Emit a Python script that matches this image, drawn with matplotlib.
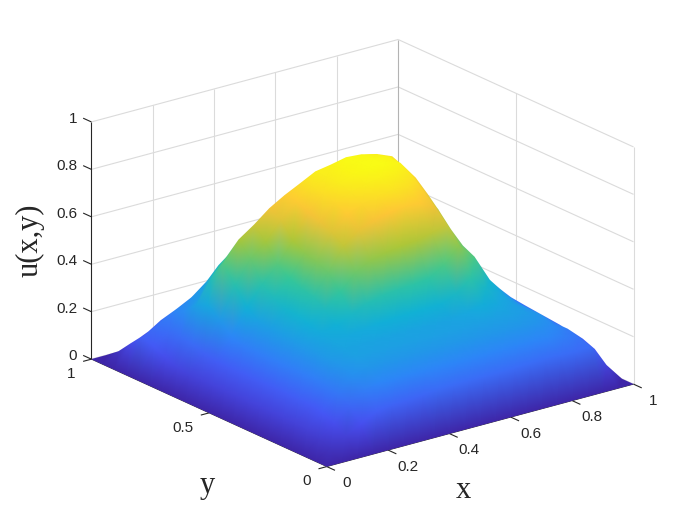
import numpy as np
import matplotlib
matplotlib.use("Agg")
import matplotlib.pyplot as plt
from matplotlib.colors import LinearSegmentedColormap
from mpl_toolkits.mplot3d import proj3d
from matplotlib.tri import Triangulation

x_vals = [0, .05, .1, .15, .2, .25, .3, .35, .4, .45, .5, .55, .6, .65, .7, .75, .8, .85, .9, .95, 1]
y_vals = [0, .05, .1, .15, .2, .25, .3, .35, .4, .45, .5, .55, .6, .65, .7, .75, .8, .85, .9, .95, 1]
x_ticks = [0, .2, .4, .6, .8, 1]
y_ticks = [0, .5, 1]
z_ticks = [0, .2, .4, .6, .8, 1]
x_tick_labels = ["0", "0.2", "0.4", "0.6", "0.8", "1"]
y_tick_labels = ["0", "0.5", "1"]
z_tick_labels = ["0", "0.2", "0.4", "0.6", "0.8", "1"]

# u[row for y][column for x]
u = [
[0]*21,
[0,.038,.068,.105,.138,.150,.150,.155,.165,.165,.165,.165,.165,.165,.168,.170,.168,.165,.170,.075,0],
[0,.056,.101,.158,.207,.225,.225,.225,.225,.225,.225,.225,.225,.225,.225,.225,.220,.205,.185,.120,0],
[0,.068,.122,.189,.248,.270,.270,.270,.270,.270,.270,.270,.270,.270,.270,.270,.262,.235,.200,.140,0],
[0,.073,.131,.204,.268,.291,.291,.291,.291,.291,.291,.291,.291,.291,.291,.291,.282,.256,.200,.148,0],
[0,.075,.135,.210,.276,.300,.300,.300,.300,.300,.300,.300,.300,.310,.325,.310,.291,.258,.200,.155,0],
[0,.075,.135,.210,.277,.305,.311,.319,.329,.334,.336,.338,.340,.365,.415,.355,.310,.260,.205,.160,0],
[0,.075,.135,.210,.279,.315,.334,.360,.390,.406,.413,.418,.425,.465,.530,.465,.350,.275,.210,.165,0],
[0,.075,.135,.210,.282,.332,.374,.432,.498,.532,.548,.559,.564,.580,.595,.490,.365,.295,.225,.170,0],
[0,.075,.135,.210,.284,.346,.407,.492,.588,.638,.661,.676,.684,.680,.645,.535,.415,.308,.240,.175,0],
[0,.075,.135,.210,.285,.352,.421,.516,.624,.680,.706,.723,.732,.728,.690,.590,.460,.350,.255,.190,0],
[0,.075,.135,.210,.295,.375,.440,.530,.646,.705,.733,.751,.761,.756,.735,.640,.525,.405,.290,.200,0],
[0,.075,.135,.225,.330,.410,.475,.560,.660,.722,.751,.770,.780,.778,.765,.685,.575,.455,.340,.210,0],
[0,.075,.145,.270,.400,.495,.550,.625,.684,.730,.751,.770,.780,.778,.768,.710,.620,.505,.390,.220,0],
[0,.080,.165,.310,.470,.553,.598,.650,.688,.720,.753,.764,.778,.773,.757,.730,.655,.550,.455,.240,0],
[0,.100,.170,.290,.390,.460,.520,.565,.610,.650,.680,.710,.720,.730,.725,.700,.665,.590,.490,.260,0],
[0,.125,.170,.240,.285,.375,.435,.485,.530,.580,.610,.650,.680,.690,.690,.680,.650,.605,.520,.300,0],
[0,.143,.177,.215,.245,.290,.360,.400,.450,.500,.535,.570,.605,.625,.640,.640,.630,.600,.550,.300,0],
[0,.093,.116,.157,.186,.219,.270,.300,.330,.350,.360,.370,.370,.370,.360,.340,.320,.290,.270,.160,0],
[0,.038,.060,.089,.118,.156,.186,.200,.200,.200,.200,.200,.200,.200,.190,.180,.160,.140,.110,.070,0],
[0]*21,
]

parula = LinearSegmentedColormap.from_list("parula", [
    (0.2422, 0.1504, 0.6603), (0.2810, 0.3228, 0.9579), (0.1786, 0.5289, 0.9682),
    (0.0689, 0.6948, 0.8394), (0.2161, 0.7843, 0.5923), (0.6720, 0.7793, 0.2227),
    (0.9970, 0.7659, 0.2199), (0.9769, 0.9839, 0.0805)])

ax_col = (.15, .15, .15)
grid_col = (.86, .86, .86)

fig = plt.figure(figsize=(7, 5.25), dpi=100)
size = 500
rect = [105.7/700, 15.2/525, size/700, size/525]
ax = fig.add_axes(rect, projection="3d", computed_zorder=False)
ax.set_proj_type("ortho")
ax.view_init(elev=20.5, azim=-127.5)
ax.set_box_aspect((1, 1, .655), zoom=1.17)
ax.set_xlim(0, 1)
ax.set_ylim(0, 1)
ax.set_zlim(0, 1)
ax.set_xticks([])
ax.set_yticks([])
ax.set_zticks([])
ax.set_axis_off()
M = ax.get_proj()

ax2 = fig.add_axes(rect)
ax2.set_xlim(-.095, .09)
ax2.set_ylim(-.095, .09)
ax2.set_xticks([])
ax2.set_yticks([])
ax2.set_axis_off()

def line(xs, ys, zs, col=grid_col, lw=.8, zo=1):
    ax.plot(xs, ys, zs, color=col, lw=lw, zorder=zo, solid_capstyle="butt", clip_on=False)

def label(x, y, z, s, ha):
    tx, ty, _ = proj3d.proj_transform(x, y, z, M)
    ax2.text(tx, ty, s, ha=ha, va="center", fontsize=11, color=ax_col, family="Liberation Sans")

# back walls
for z in z_ticks:
    line([0, 1], [1, 1], [z, z])
    line([1, 1], [0, 1], [z, z])
for x in x_ticks[1:-1]:
    line([x, x], [1, 1], [0, 1])
for y in y_ticks[1:-1]:
    line([1, 1], [y, y], [0, 1])
line([1, 1], [1, 1], [0, 1], col=(.7, .7, .7))
line([1, 1], [0, 0], [0, 1])

# axes lines and ticks
line([0, 0], [1, 1], [0, 1], col=ax_col, zo=3)
line([0, 1], [0, 0], [0, 0], col=ax_col, lw=.6, zo=1)
line([0, 0], [0, 1], [0, 0], col=ax_col, lw=.6, zo=1)
for x, lab in zip(x_ticks, x_tick_labels):
    line([x, x], [0, -.035], [0, 0], col=ax_col, zo=3)
    label(x-.035, -.13, 0, lab, "center")
for y, lab in zip(y_ticks, y_tick_labels):
    line([0, -.027], [y, y], [0, 0], col=ax_col, zo=3)
    label(-.0997, y-.0617, 0, lab, "right")
for z, lab in zip(z_ticks, z_tick_labels):
    line([0, 0], [1, 1.035], [z, z], col=ax_col, zo=3)
    label(0, 1.06, z-.015, lab, "right")

# surface: vertices projected with the 3d axes, drawn back to front with smooth colour
X, Y = np.meshgrid(x_vals, y_vals)
Z = np.array(u, dtype=float)
px, py, pz = proj3d.proj_transform(X.ravel(), Y.ravel(), Z.ravel(), M)
nr, nc = Z.shape
tris = []
for j in range(nr-1):
    for i in range(nc-1):
        a = j*nc+i
        b = a+1
        c = a+nc
        d = c+1
        tris.append([a, b, d])
        tris.append([a, d, c])
tris = np.array(tris)
order = np.argsort(-pz[tris].mean(axis=1))
tris = tris[order]

# gouraud triangles leave seams at 100 dpi, so draw them large and shrink
k = 4
fig_s = plt.figure(figsize=(7, 5.25), dpi=100*k)
fig_s.patch.set_alpha(0)
ax_s = fig_s.add_axes(rect)
ax_s.set_axis_off()
mesh = ax_s.tripcolor(Triangulation(px, py, tris), Z.ravel(), shading="gouraud", cmap=parula, vmin=0, vmax=Z.max())
mesh.set_clip_on(False)
ax_s.set_xlim(-.095, .09)
ax_s.set_ylim(-.095, .09)
fig_s.canvas.draw()
buf = np.asarray(fig_s.canvas.buffer_rgba()).astype(float)/255
h, w = buf.shape[0]//k, buf.shape[1]//k
buf[..., :3] *= buf[..., 3:]
small = buf[:h*k, :w*k].reshape(h, k, w, k, 4).mean(axis=(1, 3))
alpha = small[..., 3:]
small[..., :3] = np.where(alpha > 0, small[..., :3]/np.maximum(alpha, 1e-6), 0)
plt.close(fig_s)
fig.figimage(np.clip(small, 0, 1), 0, 0, origin="upper", zorder=2)

fig.text(30/700, 1-240/525, "u(x,y)", rotation=90, ha="center", va="center", fontsize=22, family="Liberation Serif", color=ax_col)
fig.text(463/700, 1-491/525, "x", ha="center", va="center", fontsize=22, family="Liberation Serif", color=ax_col)
fig.text(207/700, 1-486/525, "y", ha="center", va="center", fontsize=22, family="Liberation Serif", color=ax_col)

fig.savefig("out.png", dpi=100)
